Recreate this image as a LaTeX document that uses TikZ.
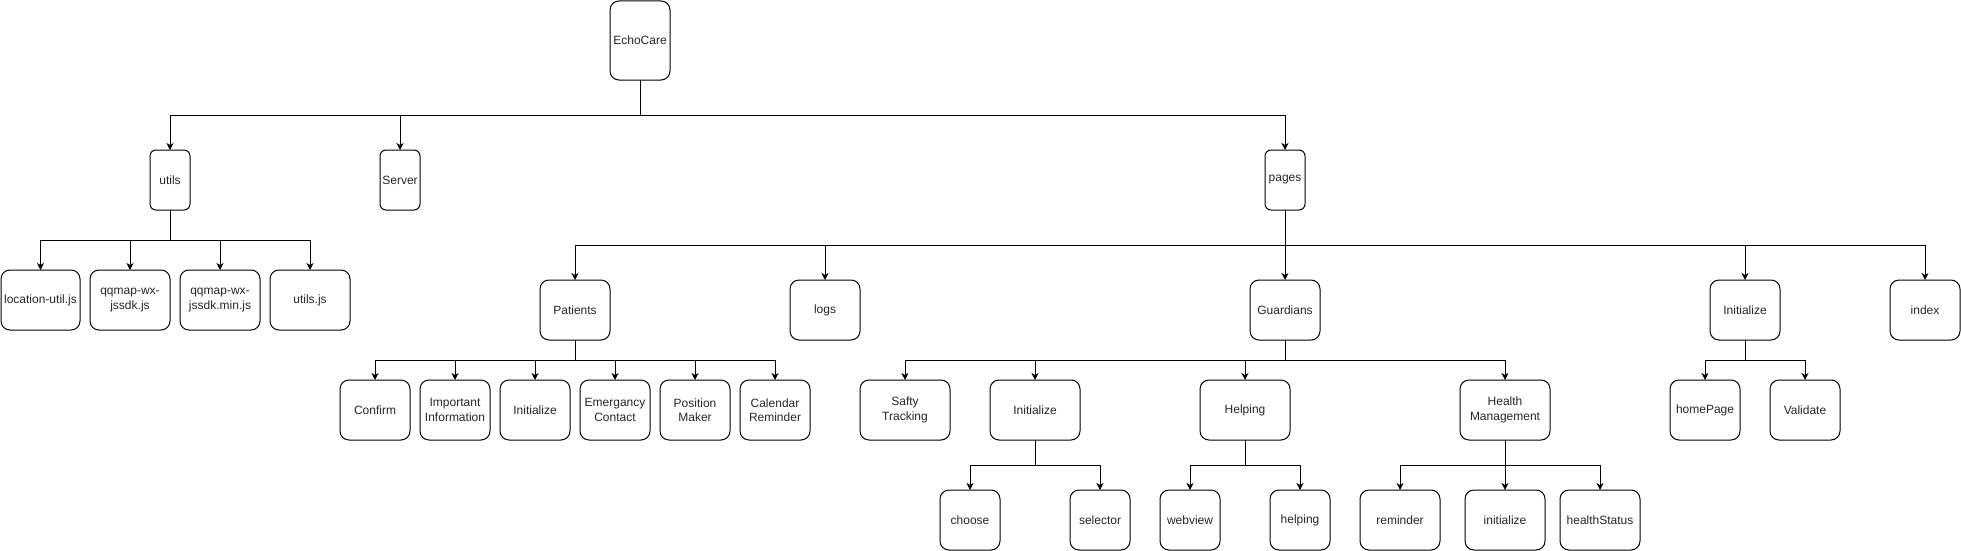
\documentclass[tikz,border=0pt]{standalone}
\usepackage{fontspec}
\setmainfont{Liberation Sans}
\usetikzlibrary{arrows.meta}
\begin{document}
\begin{tikzpicture}[x=1pt,y=-1pt,
  bx/.style={draw, line width=1pt, rounded corners=9pt, inner sep=0pt, outer sep=0pt, align=center,
    font=\fontsize{12}{14.5}\selectfont, text=black!85},
  narrow/.style={rounded corners=6pt},
  arr/.style={draw, line width=1pt, -{Stealth[length=7pt,width=7pt,inset=2pt]}},
  w40/.style={minimum width=40pt, minimum height=60pt},
  w60/.style={minimum width=60pt, minimum height=60pt},
  w70/.style={minimum width=70pt, minimum height=60pt},
  w80/.style={minimum width=80pt, minimum height=60pt},
  w90/.style={minimum width=90pt, minimum height=60pt}]
\useasboundingbox (0,0) rectangle (1961,551);
% bus levels
\coordinate (L1) at (0,115);
\coordinate (L2) at (0,240);
\coordinate (L3) at (0,245);
\coordinate (L4) at (0,360);
\coordinate (L5) at (0,465);
% level 0
\node[bx, minimum width=60pt, minimum height=79pt] (echo) at (640,40.5) {EchoCare};
% level 1
\node[bx,narrow,w40] (utils) at (170,180) {utils};
\node[bx,narrow,w40] (server) at (400,180) {Server};
\node[bx,narrow,w40] (pages) at (1285,180) {pages};
% utils children
\node[bx, minimum width=79pt, minimum height=60pt] (loc) at (40.5,300) {location-util.js};
\node[bx,w80] (qq1) at (130,300) {qqmap-wx-\\jssdk.js};
\node[bx,w80] (qq2) at (220,300) {qqmap-wx-\\jssdk.min.js};
\node[bx,w80] (ujs) at (310,300) {utils.js};
% pages children
\node[bx,w70] (patients) at (575,310) {Patients};
\node[bx,w70] (logs) at (825,310) {logs};
\node[bx,w70] (guard) at (1285,310) {Guardians};
\node[bx,w70] (pinit) at (1745,310) {Initialize};
\node[bx,w70] (index) at (1925,310) {index};
% patients children
\node[bx,w70] (confirm) at (375,410) {Confirm};
\node[bx,w70] (impinfo) at (455,410) {Important\\Information};
\node[bx,w70] (painit) at (535,410) {Initialize};
\node[bx,w70] (emerg) at (615,410) {Emergancy\\Contact};
\node[bx,w70] (posmk) at (695,410) {Position\\Maker};
\node[bx,w70] (calrem) at (775,410) {Calendar\\Reminder};
% guardians children
\node[bx,w90] (safty) at (905,410) {Safty\\Tracking};
\node[bx,w90] (ginit) at (1035,410) {Initialize};
\node[bx,w90] (helpingp) at (1245,410) {Helping};
\node[bx,w90] (health) at (1505,410) {Health\\Management};
% initialize (pages) children
\node[bx,w70] (home) at (1705,410) {homePage};
\node[bx,w70] (valid) at (1805,410) {Validate};
% level 4
\node[bx,w60] (choose) at (970,520) {choose};
\node[bx,w60] (selector) at (1100,520) {selector};
\node[bx,w60] (webview) at (1190,520) {webview};
\node[bx,w60] (helpingc) at (1300,520) {helping};
\node[bx,w80] (reminder) at (1400,520) {reminder};
\node[bx,w80] (hinit) at (1505,520) {initialize};
\node[bx,w80] (hstatus) at (1600,520) {healthStatus};
% connectors
\foreach \c in {utils,server,pages}
  \draw[arr] (echo.south) -- (echo.south |- L1) -| (\c.north);
\foreach \c in {loc,qq1,qq2,ujs}
  \draw[arr] (utils.south) -- (utils.south |- L2) -| (\c.north);
\foreach \c in {patients,logs,guard,pinit,index}
  \draw[arr] (pages.south) -- (pages.south |- L3) -| (\c.north);
\foreach \c in {confirm,impinfo,painit,emerg,posmk,calrem}
  \draw[arr] (patients.south) -- (patients.south |- L4) -| (\c.north);
\foreach \c in {safty,ginit,helpingp,health}
  \draw[arr] (guard.south) -- (guard.south |- L4) -| (\c.north);
\foreach \c in {home,valid}
  \draw[arr] (pinit.south) -- (pinit.south |- L4) -| (\c.north);
\foreach \c in {choose,selector}
  \draw[arr] (ginit.south) -- (ginit.south |- L5) -| (\c.north);
\foreach \c in {webview,helpingc}
  \draw[arr] (helpingp.south) -- (helpingp.south |- L5) -| (\c.north);
\foreach \c in {reminder,hinit,hstatus}
  \draw[arr] (health.south) -- (health.south |- L5) -| (\c.north);
\end{tikzpicture}
\end{document}
